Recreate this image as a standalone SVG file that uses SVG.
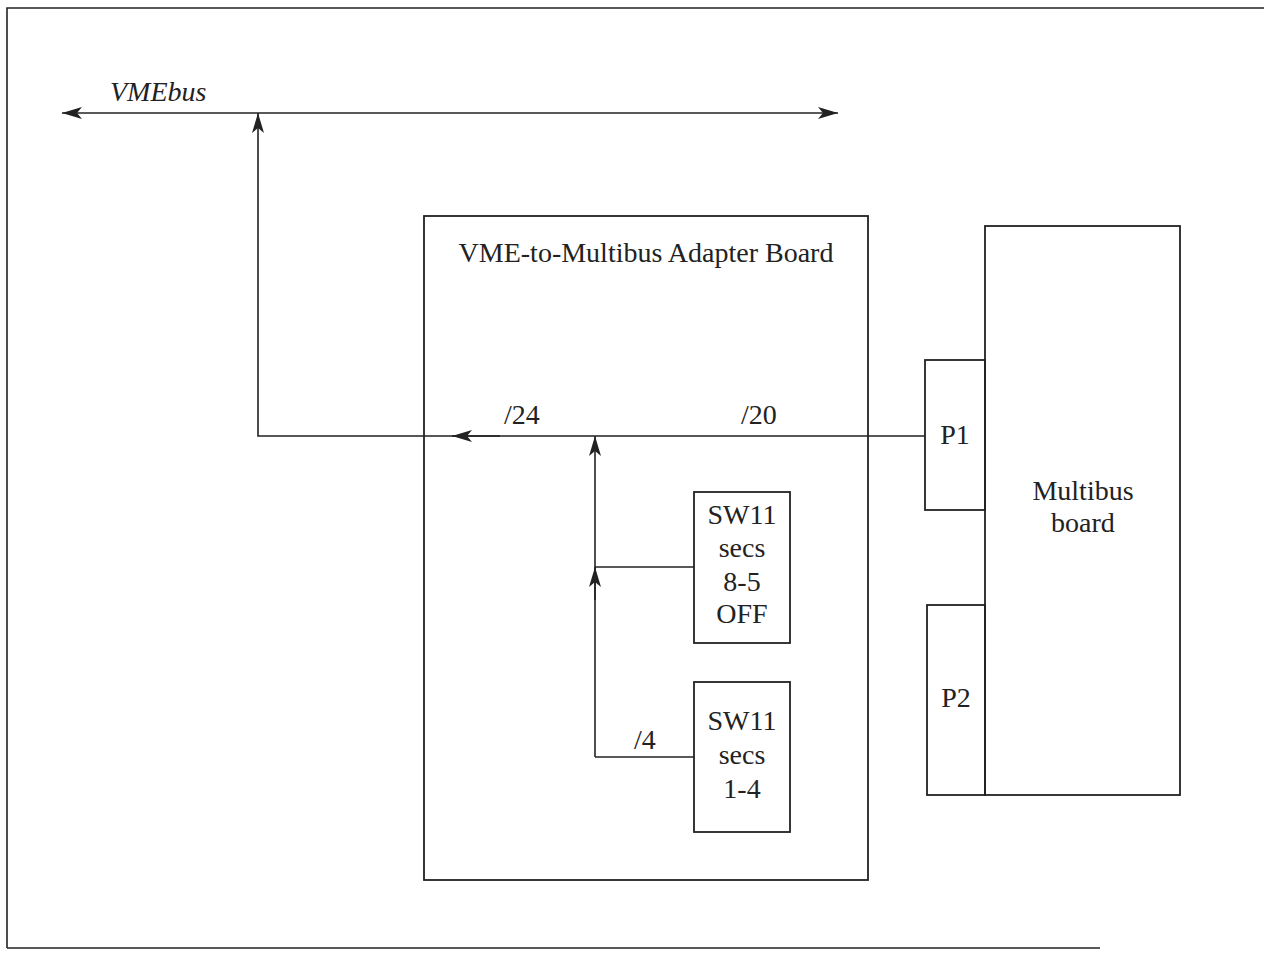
<svg xmlns="http://www.w3.org/2000/svg" width="1264" height="955" viewBox="0 0 1264 955">
<style>
.ln{stroke:#222;stroke-width:1.6;fill:none}
.bx{stroke:#222;stroke-width:1.8;fill:none}
.t{font-family:"Liberation Serif","Times New Roman",serif;font-size:28px;fill:#222}
.c{text-anchor:middle}
</style>
<defs>
<marker id="ah" viewBox="0 0 20 12" refX="20" refY="6" markerWidth="20" markerHeight="12" markerUnits="userSpaceOnUse" orient="auto">
<path d="M0,0 L20,6 L0,12 L5,6 Z" fill="#222"/>
</marker>
</defs>
<rect width="1264" height="955" fill="#fff"/>
<g id="frame">
<path class="ln" d="M7,948 L7,8 L1264,8"/>
<path class="ln" d="M7,948 L1100,948"/>
</g>
<g id="connectors">
<line class="ln" x1="450" y1="113" x2="62" y2="113" marker-end="url(#ah)"/>
<line class="ln" x1="450" y1="113" x2="838" y2="113" marker-end="url(#ah)"/>
<polyline class="ln" points="925,436 258,436 258,113" marker-end="url(#ah)"/>
<line class="ln" x1="500" y1="436" x2="452" y2="436" marker-end="url(#ah)"/>
<line class="ln" x1="595" y1="757" x2="595" y2="436" marker-end="url(#ah)"/>
<line class="ln" x1="595" y1="600" x2="595" y2="567" marker-end="url(#ah)"/>
<line class="ln" x1="694" y1="567" x2="595" y2="567"/>
<line class="ln" x1="694" y1="757" x2="595" y2="757"/>
<text class="t" x="110" y="101" font-style="italic">VMEbus</text>
<text class="t" x="504" y="424">/24</text>
<text class="t" x="741" y="424">/20</text>
<text class="t" x="634" y="749">/4</text>
</g>
<g id="adapter">
<rect class="bx" x="424" y="216" width="444" height="664"/>
<text class="t c" x="646" y="262">VME-to-Multibus Adapter Board</text>
</g>
<g id="sw1">
<rect class="bx" x="694" y="492" width="96" height="151"/>
<text class="t c" x="742" y="524">SW11</text>
<text class="t c" x="742" y="557">secs</text>
<text class="t c" x="742" y="591">8-5</text>
<text class="t c" x="742" y="623">OFF</text>
</g>
<g id="sw2">
<rect class="bx" x="694" y="682" width="96" height="150"/>
<text class="t c" x="742" y="730">SW11</text>
<text class="t c" x="742" y="764">secs</text>
<text class="t c" x="742" y="798">1-4</text>
</g>
<g id="p1">
<rect class="bx" x="925" y="360" width="60" height="150"/>
<text class="t c" x="955" y="444">P1</text>
</g>
<g id="p2">
<rect class="bx" x="927" y="605" width="58" height="190"/>
<text class="t c" x="956" y="707">P2</text>
</g>
<g id="multibus">
<rect class="bx" x="985" y="226" width="195" height="569"/>
<text class="t c" x="1083" y="500">Multibus</text>
<text class="t c" x="1083" y="532">board</text>
</g>
</svg>
